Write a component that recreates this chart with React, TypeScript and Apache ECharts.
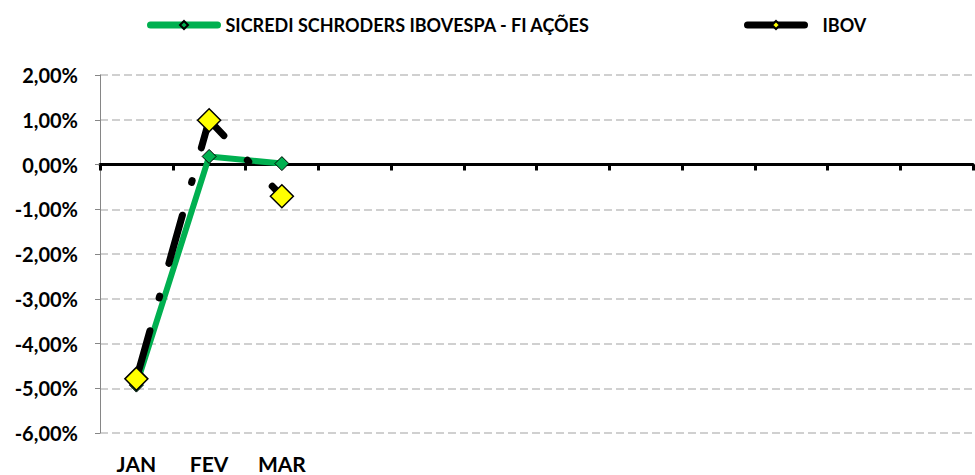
import React, { useEffect, useRef } from "react";
import * as echarts from "echarts";

const categories = ["JAN", "FEV", "MAR", "", "", "", "", "", "", "", "", ""];
const fundName = "SICREDI SCHRODERS IBOVESPA - FI AÇÕES";
const ibovName = "IBOV";
const fundValues = [-4.93, 0.18, 0.02];
const ibovValues = [-4.79, 0.99, -0.71];
const yMin = -6;
const yMax = 2;
const yInterval = 1;

const FONT = "Lato";

export default function App() {
  const ref = useRef<HTMLDivElement>(null);
  useEffect(() => {
    if (!ref.current) return;
    const chart = echarts.init(ref.current, null, { renderer: "svg" });
    chart.setOption({
      animation: false,
      backgroundColor: "#ffffff",
      textStyle: { fontFamily: FONT },
      legend: [
        {
          data: [fundName],
          left: 147,
          top: 16,
          padding: 0,
          itemWidth: 67,
          itemHeight: 10,
          lineStyle: { type: "solid", width: 7, cap: "round" },
          textStyle: { fontFamily: FONT, fontWeight: "bold", fontSize: 18, color: "#000", padding: [0, 0, 0, 3] },
        },
        {
          data: [ibovName],
          left: 744,
          top: 16,
          padding: 0,
          itemWidth: 57,
          itemHeight: 10,
          lineStyle: { type: "solid", width: 7, cap: "round" },
          textStyle: { fontFamily: FONT, fontWeight: "bold", fontSize: 18, color: "#000", padding: [0, 0, 0, 13] },
        },
      ],
      grid: { left: 100, right: 2, top: 75, bottom: 42, containLabel: false },
      xAxis: [
        {
          type: "category",
          data: categories,
          position: "bottom",
          boundaryGap: true,
          axisLine: { show: true, onZero: true, lineStyle: { color: "#000", width: 3 } },
          axisTick: { show: true, length: 6, lineStyle: { color: "#000", width: 3 } },
          axisLabel: { show: false },
          splitLine: { show: false },
        },
        {
          type: "category",
          data: categories,
          position: "bottom",
          boundaryGap: true,
          axisLine: { show: false, onZero: false },
          axisTick: { show: false },
          axisLabel: {
            show: true,
            interval: 0,
            margin: 20,
            fontFamily: FONT,
            fontWeight: "bold",
            fontSize: 21,
            color: "#000",
          },
          splitLine: { show: false },
        },
      ],
      yAxis: {
        type: "value",
        min: yMin,
        max: yMax,
        interval: yInterval,
        axisLine: { show: true, lineStyle: { color: "#868686", width: 1 } },
        axisTick: { show: true, length: 5, lineStyle: { color: "#868686", width: 1 } },
        axisLabel: {
          margin: 22,
          fontFamily: FONT,
          fontWeight: "bold",
          fontSize: 20,
          color: "#000",
          formatter: (v: number) => v.toFixed(2).replace(".", ",") + "%",
        },
        splitLine: { show: true, lineStyle: { color: "#D0D0D0", width: 2, type: "dashed", dashOffset: 0 } },
      },
      series: [
        {
          name: fundName,
          type: "line",
          xAxisIndex: 0,
          data: fundValues,
          symbol: "diamond",
          symbolSize: 14,
          lineStyle: { color: "#00B050", width: 6 },
          itemStyle: { color: "#00B050", borderColor: "#000", borderWidth: 1 },
          z: 2,
        },
        {
          name: ibovName,
          type: "line",
          xAxisIndex: 0,
          data: ibovValues,
          symbol: "diamond",
          symbolSize: 23,
          lineStyle: { color: "#000", width: 7, type: [50, 34, 2, 34], cap: "round", join: "round" },
          itemStyle: { color: "#FFFF00", borderColor: "#000", borderWidth: 1.5 },
          z: 3,
        },
      ],
    });
    return () => chart.dispose();
  }, []);
  return (
    <div
      ref={ref}
      style={{ position: "fixed", left: 0, top: 0, width: 975, height: 475 }}
    />
  );
}
